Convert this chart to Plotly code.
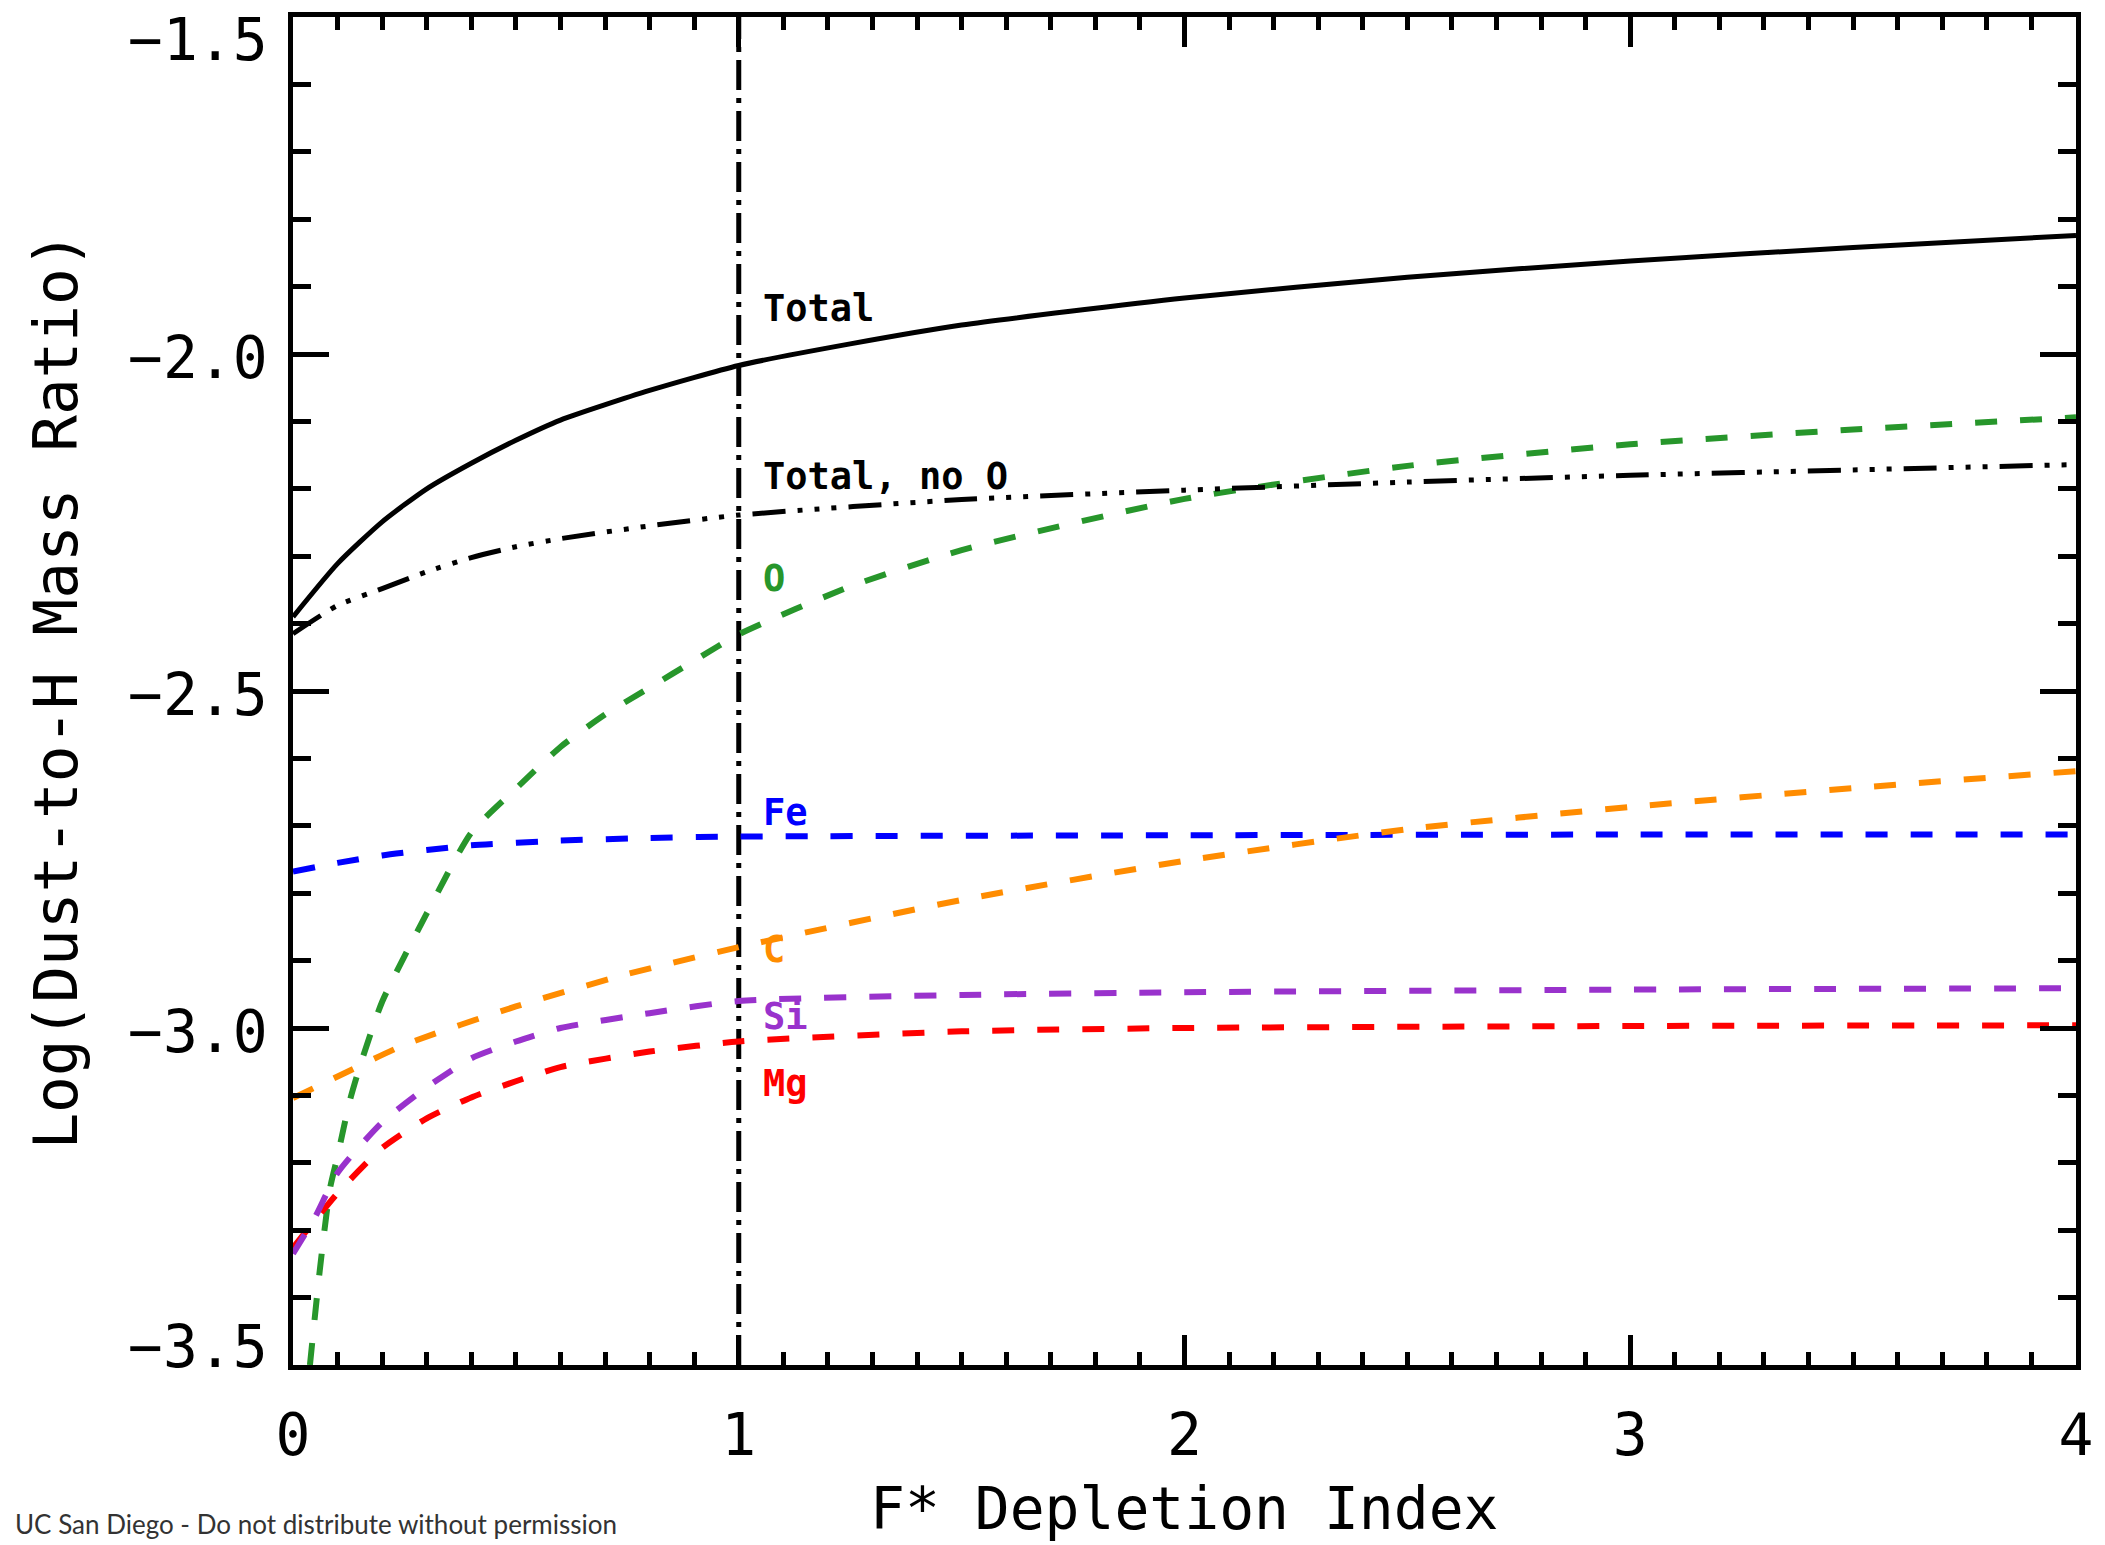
import plotly.graph_objects as go

# F* depletion index grid and log dust-to-H mass ratio per element
total_x = [0.0, 0.1, 0.2, 0.3, 0.4, 0.5, 0.6, 0.8, 1.0, 1.25, 1.5, 2.0, 2.5, 3.0, 3.5, 4.0]
total_y = [-2.390, -2.311, -2.249, -2.200, -2.162, -2.128, -2.098, -2.054, -2.017,
           -1.985, -1.957, -1.917, -1.886, -1.862, -1.842, -1.824]

noO_x = [0.0, 0.1, 0.2, 0.3, 0.4, 0.5, 0.6, 0.8, 1.0, 1.5, 2.0, 2.5, 3.0, 3.5, 4.0]
noO_y = [-2.415, -2.373, -2.348, -2.323, -2.302, -2.286, -2.274, -2.255, -2.239,
         -2.216, -2.202, -2.190, -2.180, -2.172, -2.164]

o_x = [0.038, 0.06, 0.083, 0.1, 0.127, 0.15, 0.2, 0.3, 0.4, 0.5, 0.6, 0.7, 0.8, 0.9,
       1.0, 1.25, 1.5, 2.0, 2.5, 3.0, 3.5, 4.0]
o_y = [-3.50, -3.36, -3.238, -3.19, -3.109, -3.057, -2.961, -2.83, -2.71, -2.645,
       -2.583, -2.535, -2.495, -2.455, -2.416, -2.345, -2.291, -2.215, -2.166,
       -2.134, -2.112, -2.094]

fe_x = [0.0, 0.1, 0.2, 0.3, 0.4, 0.6, 0.8, 1.0, 2.0, 3.0, 4.0]
fe_y = [-2.768, -2.755, -2.744, -2.736, -2.729, -2.722, -2.718, -2.716, -2.714, -2.713, -2.713]

c_x = [0.0, 0.1, 0.25, 0.5, 0.75, 1.0, 1.5, 2.0, 2.5, 3.0, 3.5, 4.0]
c_y = [-3.104, -3.072, -3.025, -2.968, -2.920, -2.880, -2.810, -2.752, -2.705,
       -2.672, -2.644, -2.619]

si_x = [0.0, 0.05, 0.1, 0.2, 0.3, 0.4, 0.5, 0.6, 0.8, 1.0, 1.5, 2.0, 3.0, 4.0]
si_y = [-3.335, -3.280, -3.215, -3.140, -3.088, -3.045, -3.020, -3.000, -2.978,
        -2.960, -2.951, -2.947, -2.943, -2.941]

mg_x = [0.0, 0.1, 0.2, 0.3, 0.4, 0.5, 0.6, 0.8, 1.0, 1.5, 2.0, 3.0, 4.0]
mg_y = [-3.326, -3.245, -3.178, -3.134, -3.103, -3.079, -3.058, -3.035, -3.020,
        -3.005, -3.000, -2.997, -2.996]

# reference depletion index marked by the vertical line
fstar_ref = 1.0

# curve labels and their heights
label_texts = ["Total", "Total, no O", "O", "Fe", "C", "Si", "Mg"]
label_y = [-1.933, -2.182, -2.333, -2.680, -2.883, -2.983, -3.082]
label_colors = ["black", "black", "#27962b", "#0000ff", "#ff8c00", "#9932cc", "#ff0000"]

# y-axis tick labels
y_tick_vals = [-1.5, -2.0, -2.5, -3.0, -3.5]
y_tick_text = ["\u22121.5", "\u22122.0", "\u22122.5", "\u22123.0", "\u22123.5"]
# the end labels are kept inside the frame, the rest sit just below their tick
y_tick_shift = [-23, -4, -4, -4, 18]

x_range = [0, 4]
y_range = [-3.5, -1.5]

dash_colored = "22px,23px"
dash_3dot = "33px,12px,5px,12px,5px,12px,5px,12px"
dash_dotdash = "30px,8px,5px,8px"

mono = "DejaVu Sans Mono"

fig = go.Figure()

fig.add_trace(go.Scatter(x=[fstar_ref, fstar_ref], y=y_range, mode="lines",
                         line=dict(color="black", width=5, dash=dash_dotdash)))

curves = [
    (o_x, o_y, "#27962b", 6, dash_colored),
    (fe_x, fe_y, "#0000ff", 6, dash_colored),
    (c_x, c_y, "#ff8c00", 6, dash_colored),
    (mg_x, mg_y, "#ff0000", 6, dash_colored),
    (si_x, si_y, "#9932cc", 6, dash_colored),
    (noO_x, noO_y, "black", 5, dash_3dot),
    (total_x, total_y, "black", 5, None),
]
for xs, ys, col, w, dash in curves:
    line = dict(color=col, width=w, shape="spline", smoothing=0.6)
    if dash:
        line["dash"] = dash
    fig.add_trace(go.Scatter(x=xs, y=ys, mode="lines", line=line))

for txt, yy, col in zip(label_texts, label_y, label_colors):
    fig.add_annotation(x=1.05, y=yy, xref="x", yref="y", text="<b>" + txt + "</b>",
                       showarrow=False, xanchor="left", yanchor="middle",
                       font=dict(family=mono, size=37, color=col))

for val, txt, shift in zip(y_tick_vals, y_tick_text, y_tick_shift):
    fig.add_annotation(x=-0.0128, y=val, xref="paper", yref="y", text=txt,
                       showarrow=False, xanchor="right", yanchor="middle",
                       yshift=shift,
                       font=dict(family=mono, size=58, color="black"))

# axis titles
fig.add_annotation(x=0.5, y=-0.1065, xref="paper", yref="paper",
                   text="F* Depletion Index", showarrow=False,
                   xanchor="center", yanchor="middle",
                   font=dict(family=mono, size=58, color="black"))
fig.add_annotation(x=-0.1337, y=0.5, xref="paper", yref="paper",
                   text="Log(Dust-to-H Mass Ratio)", showarrow=False, textangle=-90,
                   xanchor="center", yanchor="middle",
                   font=dict(family=mono, size=61, color="black"))

# footer note
fig.add_annotation(x=-0.157, y=-0.1312, xref="paper", yref="paper",
                   text="UC San Diego - Do not distribute without permission",
                   showarrow=False, xanchor="left", yanchor="bottom",
                   font=dict(family="Lato", size=26, color="#333333"))

fig.update_xaxes(range=x_range, showline=True, linewidth=5, linecolor="black",
                 mirror="allticks", ticks="inside", ticklen=30, tickwidth=5,
                 tickcolor="black", dtick=1, tick0=0, showgrid=False, zeroline=False,
                 tickfont=dict(family=mono, size=58, color="black"),
                 ticklabelstandoff=15,
                 minor=dict(ticks="inside", ticklen=13, tickwidth=5,
                            tickcolor="black", dtick=0.1, showgrid=False))
fig.update_yaxes(range=y_range, showline=True, linewidth=5, linecolor="black",
                 mirror="allticks", ticks="inside", ticklen=36, tickwidth=5,
                 tickcolor="black", dtick=0.5, tick0=-1.5, showticklabels=False,
                 showgrid=False, zeroline=False,
                 minor=dict(ticks="inside", ticklen=18, tickwidth=5,
                            tickcolor="black", dtick=0.1, showgrid=False))

fig.update_layout(width=2105, height=1545, showlegend=False,
                  plot_bgcolor="white", paper_bgcolor="white",
                  margin=dict(l=293, r=21, t=13, b=180))

fig.write_html("out.html")
